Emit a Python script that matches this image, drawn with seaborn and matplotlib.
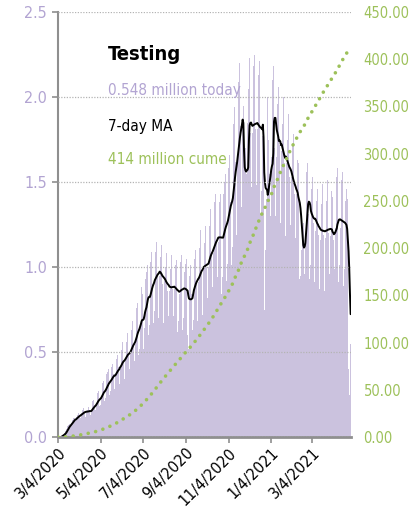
import pandas as pd
import seaborn as sns
import matplotlib.pyplot as plt
from matplotlib.ticker import FuncFormatter

START = "2020-03-04"

# daily tests (millions), one row per week, Wed..Tue, starting 3/4/2020
tests_spring = [
    0.001, 0.002, 0.003, 0.004, 0.005, 0.008, 0.012,
    0.015, 0.02, 0.025, 0.03, 0.035, 0.045, 0.06,
    0.065, 0.07, 0.08, 0.075, 0.07, 0.085, 0.095,
    0.10, 0.11, 0.12, 0.11, 0.095, 0.10, 0.12,
    0.13, 0.14, 0.145, 0.13, 0.11, 0.12, 0.14,
    0.16, 0.165, 0.17, 0.15, 0.12, 0.13, 0.15,
    0.16, 0.17, 0.175, 0.16, 0.12, 0.13, 0.16,
    0.20, 0.21, 0.22, 0.19, 0.15, 0.16, 0.20,
    0.25, 0.26, 0.27, 0.23, 0.18, 0.19, 0.23,
    0.31, 0.32, 0.33, 0.28, 0.21, 0.23, 0.28,
    0.37, 0.38, 0.40, 0.33, 0.25, 0.27, 0.32,
    0.41, 0.43, 0.45, 0.37, 0.28, 0.27, 0.36,
    0.46, 0.48, 0.50, 0.41, 0.31, 0.34, 0.40,
]
tests_summer = [
    0.51, 0.54, 0.56, 0.45, 0.34, 0.37, 0.45,
    0.56, 0.59, 0.61, 0.49, 0.36, 0.40, 0.49,
    0.63, 0.66, 0.68, 0.55, 0.41, 0.45, 0.55,
    0.72, 0.76, 0.79, 0.64, 0.48, 0.52, 0.64,
    0.82, 0.88, 0.84, 0.64, 0.52, 0.64, 0.80,
    0.93, 0.97, 1.01, 0.80, 0.60, 0.66, 0.80,
    1.03, 1.09, 1.13, 0.90, 0.67, 0.74, 0.90,
    1.09, 1.15, 1.19, 0.95, 0.70, 0.78, 0.95,
    1.06, 1.11, 1.13, 0.90, 0.67, 0.74, 0.92,
    1.00, 1.05, 1.08, 0.86, 0.63, 0.71, 0.86,
    0.99, 1.04, 1.07, 0.87, 0.64, 0.71, 0.87,
    0.96, 1.01, 1.04, 0.83, 0.62, 0.68, 0.84,
    0.98, 1.03, 1.07, 0.85, 0.63, 0.70, 0.86,
]
tests_fall = [
    0.97, 1.02, 1.05, 0.82, 0.60, 0.52, 0.72,
    0.95, 1.01, 1.05, 0.84, 0.63, 0.69, 0.87,
    1.05, 1.10, 1.14, 0.91, 0.68, 0.75, 0.91,
    1.11, 1.18, 1.22, 0.98, 0.72, 0.80, 0.98,
    1.14, 1.20, 1.24, 1.00, 0.74, 0.82, 1.00,
    1.24, 1.30, 1.34, 1.08, 0.80, 0.88, 1.08,
    1.31, 1.38, 1.43, 1.15, 0.85, 0.94, 1.15,
    1.32, 1.38, 1.43, 1.15, 0.84, 0.94, 1.15,
    1.43, 1.50, 1.55, 1.25, 0.92, 1.02, 1.25,
    1.58, 1.66, 1.71, 1.38, 1.01, 1.12, 1.38,
    1.84, 1.94, 2.01, 1.62, 1.19, 1.32, 1.62,
    2.09, 2.20, 2.27, 1.83, 1.35, 1.50, 1.83,
    1.95, 1.05, 1.60, 1.70, 1.30, 1.55, 1.85,
]
tests_winter = [
    2.05, 2.16, 2.23, 1.79, 1.32, 1.47, 1.79,
    2.07, 2.18, 2.25, 1.81, 1.33, 1.48, 1.81,
    2.03, 2.13, 2.21, 1.77, 1.31, 1.45, 1.77,
    2.22, 1.62, 0.75, 1.35, 1.10, 1.40, 1.75,
    2.00, 1.75, 1.00, 1.55, 1.30, 1.65, 1.90,
    2.10, 2.18, 2.31, 1.70, 1.30, 1.40, 1.65,
    1.96, 2.06, 2.12, 1.72, 1.26, 1.25, 1.68,
    1.84, 1.93, 2.00, 1.61, 1.18, 1.31, 1.61,
    1.75, 1.84, 1.90, 1.53, 1.13, 1.25, 1.53,
    1.63, 1.72, 1.78, 1.43, 1.05, 1.17, 1.43,
    1.56, 1.63, 1.61, 1.31, 0.93, 0.95, 1.10,
    1.15, 1.20, 1.26, 1.21, 0.96, 1.11, 1.51,
    1.56, 1.61, 1.63, 1.31, 0.93, 1.01, 1.26,
]
tests_2021 = [
    1.46, 1.53, 1.56, 1.26, 0.91, 1.01, 1.21,
    1.39, 1.46, 1.51, 1.19, 0.87, 0.96, 1.16,
    1.37, 1.45, 1.49, 1.19, 0.86, 0.95, 1.17,
    1.39, 1.46, 1.51, 1.20, 0.87, 0.96, 1.18,
    1.38, 1.45, 1.41, 1.16, 0.81, 0.99, 1.23,
    1.45, 1.53, 1.58, 1.25, 0.91, 1.01, 1.23,
    1.43, 1.51, 1.56, 1.23, 0.89, 0.99, 1.21,
    1.39, 1.46, 1.40, 0.80, 0.40, 0.25, 0.20,
    0.548,
]

tick_dates = ["2020-03-04", "2020-05-04", "2020-07-04", "2020-09-04",
              "2020-11-04", "2021-01-04", "2021-03-04"]
tick_labels = ["3/4/2020", "5/4/2020", "7/4/2020", "9/4/2020",
               "11/4/2020", "1/4/2021", "3/4/2021"]
left_ticks = [0.0, 0.5, 1.0, 1.5, 2.0, 2.5]
right_ticks = [0, 50, 100, 150, 200, 250, 300, 350, 400, 450]

LAV = "#cbc2de"
LAV_TXT = "#b2a4d2"
GREEN = "#9dc15a"
GREY = "#8f8f8f"


def main():
    daily = tests_spring + tests_summer + tests_fall + tests_winter + tests_2021
    dates = pd.date_range(START, periods=len(daily), freq="D")
    df = pd.DataFrame({"date": dates, "tests": daily})
    df["day"] = (df["date"] - pd.Timestamp(START)).dt.days
    df["ma7"] = df["tests"].rolling(7).mean()
    df["cume"] = df["tests"].cumsum()

    sns.set_style("white")
    plt.rcParams["font.family"] = ["DejaVu Sans"]
    plt.rcParams["font.stretch"] = "condensed"

    fig = plt.figure(figsize=(4.14, 5.14), dpi=100)
    ax = fig.add_axes([58 / 414, 77 / 514, 293 / 414, 425 / 514])

    sns.barplot(data=df, x="day", y="tests", native_scale=True, width=1.0,
                color=LAV, saturation=1, linewidth=0, errorbar=None, ax=ax)
    sns.lineplot(data=df, x="day", y="ma7", color="black", linewidth=1.4, ax=ax)

    ax.set_xlim(0, len(daily) - 0.5)
    ax.set_ylim(0, 2.5)
    ax.set_yticks(left_ticks)
    ax.set_yticklabels([f"{t:.1f}" for t in left_ticks])
    tick_pos = (pd.to_datetime(tick_dates) - pd.Timestamp(START)).days
    ax.set_xticks(tick_pos)
    ax.set_xticklabels(tick_labels, rotation=45, ha="right",
                       rotation_mode="anchor", fontsize=11.5)
    ax.set_xlabel("")
    ax.set_ylabel("")

    ax.grid(axis="y", color="#b4b4b4", linestyle=(0, (1, 1.2)), linewidth=0.9)
    ax.grid(axis="x", visible=False)
    ax.set_axisbelow(False)
    for s in ["top", "right"]:
        ax.spines[s].set_visible(False)
    ax.spines["left"].set_color(GREY)
    ax.spines["left"].set_linewidth(1.5)
    ax.spines["bottom"].set_color(GREY)
    ax.spines["bottom"].set_linewidth(2)
    ax.tick_params(axis="y", colors=GREY, labelcolor=LAV_TXT, labelsize=11.5,
                   length=4, width=1.2, left=True, pad=4)
    ax.tick_params(axis="x", colors=GREY, labelcolor="black",
                   length=4, width=1.2, bottom=True, pad=2)

    ax2 = ax.twinx()
    sns.lineplot(data=df, x="day", y="cume", color=GREEN, linewidth=2.6,
                 linestyle=(0, (0.01, 2.1)), dash_capstyle="round", ax=ax2)
    ax2.set_ylim(0, 450)
    ax2.set_yticks(right_ticks)
    ax2.yaxis.set_major_formatter(FuncFormatter(lambda v, p: f"{v:.2f}"))
    ax2.set_ylabel("")
    for s in ax2.spines.values():
        s.set_visible(False)
    ax2.tick_params(axis="y", length=0, pad=9, labelcolor=GREEN, labelsize=10.5)
    ax2.grid(False)

    fig.text(108 / 414, 1 - 55 / 514, "Testing", fontsize=14.5, fontweight="bold",
             color="black", va="center", ha="left")
    fig.text(108 / 414, 1 - 91 / 514, "0.548 million today", fontsize=11,
             color=LAV_TXT, va="center", ha="left")
    fig.text(108 / 414, 1 - 126 / 514, "7-day MA", fontsize=11,
             color="black", va="center", ha="left")
    fig.text(108 / 414, 1 - 159 / 514, "414 million cume", fontsize=11,
             color=GREEN, va="center", ha="left")

    fig.savefig("out.png", dpi=100)
    plt.close(fig)


if __name__ == "__main__":
    main()
